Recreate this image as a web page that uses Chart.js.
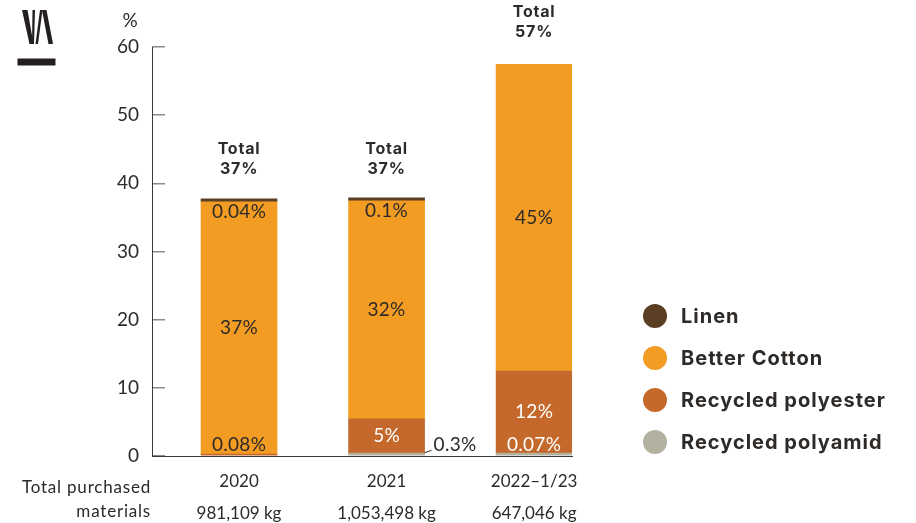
<!DOCTYPE html>
<html>
<head>
<meta charset="utf-8">
<script src="https://cdn.jsdelivr.net/npm/chart.js@4.4.1/dist/chart.umd.min.js"></script>
<style>
  html, body { margin: 0; padding: 0; background: #fff; }
</style>
</head>
<body>
<canvas id="materials" width="916" height="523"></canvas>
<script>
// share of preferred materials, percent of total purchased
const years = ['2020', '2021', '2022–1/23'];
const purchased = ['981,109 kg', '1,053,498 kg', '647,046 kg'];
const polyamid = [null, 0.3, 0.07];
const polyester = [0.08, 5, 12];
const cotton = [37, 32, 45];
const linen = [0.04, 0.1, null];
const totals = [37, 37, 57];
const yTicks = [0, 10, 20, 30, 40, 50, 60];

const TEXT = '#2d2a28';
const REG = 'Lato, "Open Sans", sans-serif';
const BOLD = 'Inter, "Noto Sans", sans-serif';

const toPoints = arr => arr.map((v, i) => ({ x: i, y: v }));

/**************** labels on the bars *************************/
const barLabels = {
    id: 'barLabels',
    afterDatasetsDraw(chart) {
        const ctx = chart.ctx;
        const meta = [0, 1, 2, 3].map(i => chart.getDatasetMeta(i));
        const yScale = chart.scales.y;
        ctx.save();
        ctx.textAlign = 'center';
        ctx.textBaseline = 'middle';

        years.forEach((yr, i) => {
            const pa = meta[0].data[i], pe = meta[1].data[i], co = meta[2].data[i];
            const half = co.width / 2;
            ctx.font = '19px ' + REG;
            ctx.letterSpacing = '0.3px';

            // Better Cotton, middle of its segment
            ctx.fillStyle = TEXT;
            ctx.fillText(cotton[i] + '%', co.x, (co.y + co.base) / 2);

            // Linen sits just under the top edge
            if (linen[i] != null) {
                ctx.fillText(linen[i] + '%', co.x, co.y + 10);
            }

            // Recycled polyester
            if (polyester[i] >= 1) {
                ctx.fillStyle = '#fff';
                ctx.fillText(polyester[i] + '%', pe.x, (pe.y + pe.base) / 2);
            } else {
                ctx.fillStyle = TEXT;
                ctx.fillText(polyester[i] + '%', pe.x, pe.base - 10);
            }

            // Recycled polyamid: inside when there is room, else beside the bar
            if (polyamid[i] != null) {
                if (polyester[i] >= 8) {
                    ctx.fillStyle = '#fff';
                    ctx.fillText(polyamid[i] + '%', pa.x, pa.base - 10);
                } else {
                    const x0 = pa.x + half;
                    ctx.strokeStyle = TEXT;
                    ctx.lineWidth = 1;
                    ctx.beginPath();
                    ctx.moveTo(x0, pa.base - 2.5);
                    ctx.lineTo(x0 + 7, pa.base - 5);
                    ctx.stroke();
                    ctx.fillStyle = TEXT;
                    ctx.textAlign = 'left';
                    ctx.fillText(polyamid[i] + '%', x0 + 9, pa.base - 10);
                    ctx.textAlign = 'center';
                }
            }

            // totals above each bar
            const top = yScale.getPixelForValue(totals[i]);
            ctx.fillStyle = TEXT;
            ctx.font = 'bold 16px ' + BOLD;
            ctx.letterSpacing = '0.8px';
            ctx.fillText('Total', co.x, top - 55);
            ctx.fillText(totals[i] + '%', co.x, top - 35);
        });
        ctx.restore();
    }
};

/**************** legend, logo, side texts *************************/
const extras = {
    id: 'extras',
    afterDraw(chart) {
        const ctx = chart.ctx;
        ctx.save();

        // legend, top of stack first
        const ds = chart.data.datasets.slice().reverse();
        ds.forEach((d, k) => {
            const cy = 316 + k * 42;
            ctx.fillStyle = d.backgroundColor;
            ctx.beginPath();
            ctx.arc(655, cy, 12, 0, Math.PI * 2);
            ctx.fill();
            ctx.fillStyle = TEXT;
            ctx.font = 'bold 20px ' + BOLD;
            ctx.letterSpacing = '1px';
            ctx.textAlign = 'left';
            ctx.textBaseline = 'middle';
            ctx.fillText(d.label, 681, cy + 1);
        });
        ctx.letterSpacing = '0px';

        // unit label above the y axis
        ctx.font = '19px ' + REG;
        ctx.textAlign = 'center';
        ctx.fillText('%', 130, 21);

        // row caption for the purchased weights
        ctx.font = '17px ' + REG;
        ctx.letterSpacing = '0.8px';
        ctx.textAlign = 'right';
        ctx.fillText('Total purchased', 151, 488);
        ctx.fillText('materials', 151, 512);

        // logo mark
        ctx.fillStyle = '#231f20';
        const poly = pts => {
            ctx.beginPath();
            ctx.moveTo(pts[0], pts[1]);
            for (let p = 2; p < pts.length; p += 2) ctx.lineTo(pts[p], pts[p + 1]);
            ctx.closePath();
            ctx.fill();
        };
        poly([22, 10, 27.5, 10, 33.5, 44, 29.5, 44]);
        poly([32.5, 10, 35, 10, 34, 44, 32, 44]);
        poly([40, 10, 42.5, 10, 38, 44, 35.5, 44]);
        poly([42, 10, 46.5, 10, 53, 44, 48.5, 44]);
        ctx.fillRect(17.5, 58.5, 38, 7);

        ctx.restore();
    }
};

new Chart(document.getElementById('materials'), {
    type: 'bar',
    data: {
        datasets: [
            { label: 'Recycled polyamid', data: toPoints(polyamid), backgroundColor: '#b3b1a0', minBarLength: 3 },
            { label: 'Recycled polyester', data: toPoints(polyester), backgroundColor: '#c4692b', minBarLength: 2 },
            { label: 'Better Cotton', data: toPoints(cotton), backgroundColor: '#f39c23' },
            { label: 'Linen', data: toPoints(linen), backgroundColor: '#5a3f24', minBarLength: 3 }
        ]
    },
    options: {
        responsive: false,
        animation: false,
        barThickness: 76,
        layout: { padding: { top: 47, right: 344, left: 0, bottom: 0 } },
        plugins: {
            legend: { display: false },
            tooltip: { enabled: false }
        },
        scales: {
            x: {
                type: 'linear',
                stacked: true,
                offset: false,
                min: -0.59,
                max: 2.257,
                afterBuildTicks: scale => { scale.ticks = years.map((y, i) => ({ value: i })); },
                afterFit: scale => { scale.height = 67; },
                grid: { display: false },
                border: { display: true, color: '#3a3a3a', width: 1 },
                ticks: {
                    padding: 1,
                    color: TEXT,
                    font: { family: REG, size: 17, lineHeight: 1.9 },
                    callback: v => [years[v], purchased[v]]
                }
            },
            y: {
                stacked: true,
                min: 0,
                max: 60,
                afterBuildTicks: scale => { scale.ticks = yTicks.map(v => ({ value: v })); },
                afterFit: scale => { scale.width = 152; },
                grid: {
                    drawOnChartArea: false,
                    drawTicks: true,
                    tickLength: -13,
                    color: '#8a8a8a',
                    lineWidth: 1.5
                },
                border: { display: true, color: '#3a3a3a', width: 1 },
                ticks: {
                    padding: 26,
                    color: TEXT,
                    font: { family: REG, size: 19 }
                }
            }
        }
    },
    plugins: [barLabels, extras]
});
</script>
</body>
</html>
